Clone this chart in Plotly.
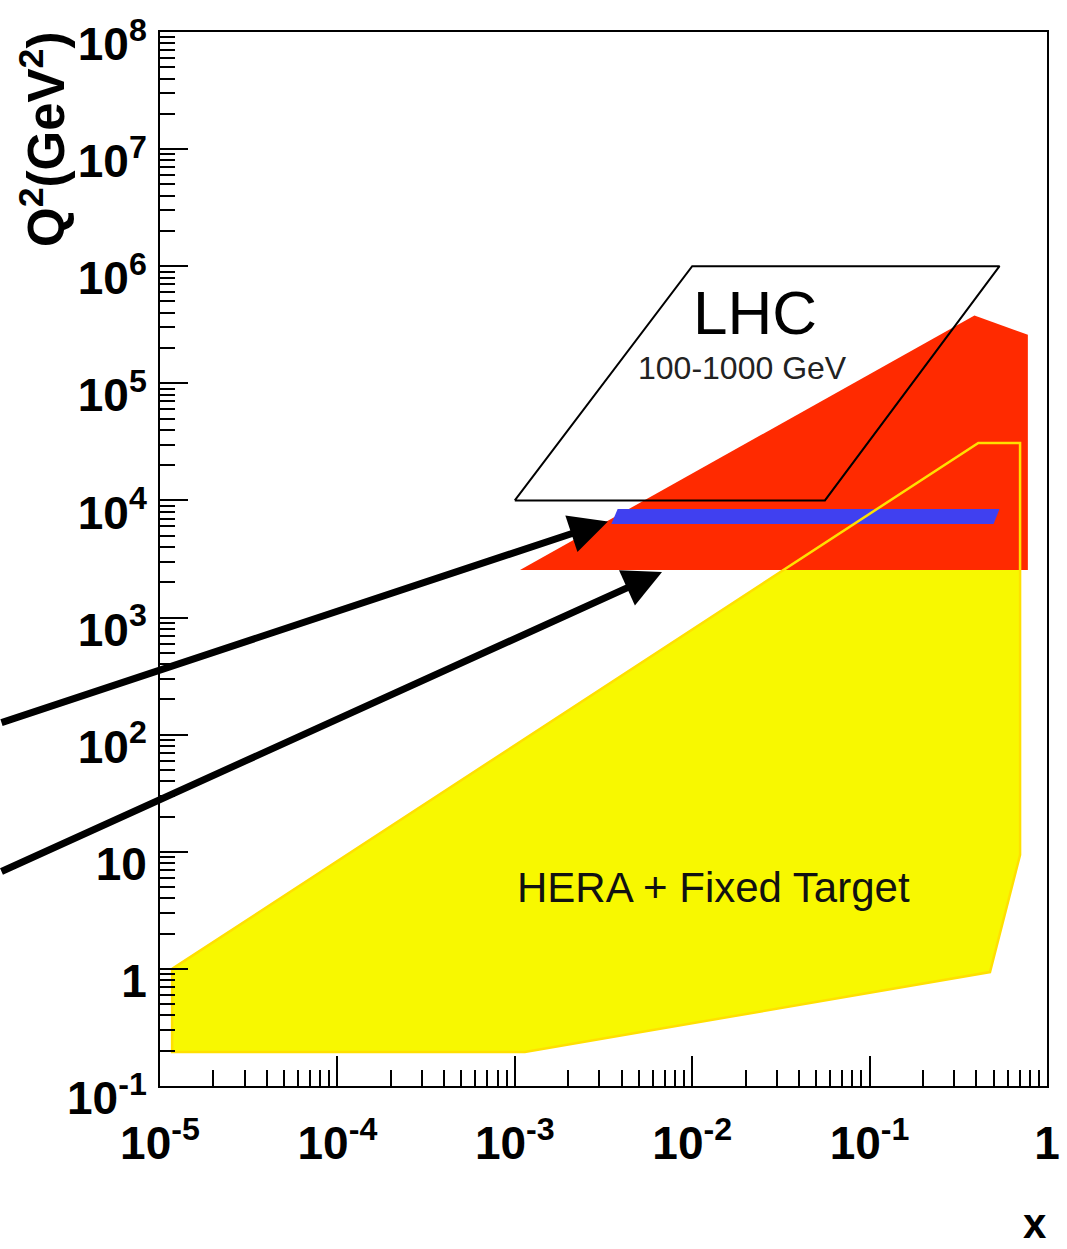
import numpy as np
import plotly.graph_objects as go

# ---------------- data ----------------
x_tickvals = [1e-5, 1e-4, 1e-3, 1e-2, 1e-1, 1]
x_ticktext = ["10<sup>-5</sup>", "10<sup>-4</sup>", "10<sup>-3</sup>",
              "10<sup>-2</sup>", "10<sup>-1</sup>", "1"]
y_tickvals = [1e-1, 1, 10, 1e2, 1e3, 1e4, 1e5, 1e6, 1e7, 1e8]
y_ticktext = ["10<sup>-1</sup>", "1", "10", "10<sup>2</sup>", "10<sup>3</sup>",
              "10<sup>4</sup>", "10<sup>5</sup>", "10<sup>6</sup>",
              "10<sup>7</sup>", "10<sup>8</sup>"]

# HERA + fixed target region (yellow)
hera_x = [1.17e-5, 0.41, 0.705, 0.705, 0.477, 1.14e-3, 1.17e-5, 1.17e-5]
hera_y = [1.0, 3.1e4, 3.1e4, 9.4, 0.94, 0.195, 0.195, 1.0]

# LHC kinematic region (red)
lhc_x = [1.07e-3, 0.39, 0.78, 0.78, 1.07e-3]
lhc_y = [2550, 3.8e5, 2.6e5, 2550, 2550]

# LHC 100-1000 GeV parallelogram
box_x = [1e-3, 0.01, 0.54, 0.056, 1e-3]
box_y = [1e4, 1e6, 1e6, 1e4, 1e4]

# blue band
band_x = [3.8e-3, 0.54, 0.5, 3.5e-3, 3.8e-3]
band_y = [8450, 8450, 6300, 6300, 8450]

# arrows: tip and tail positions
arrow_tip_x = [3.35e-3, 6.76e-3]
arrow_tip_y = [6600, 2450]
arrow_tail_x = [10 ** -5.902, 10 ** -5.902]
arrow_tail_y = [125.6, 6.7]

# ---------------- figure ----------------
fig = go.Figure()

fig.add_trace(go.Scatter(x=hera_x, y=hera_y, mode="lines", fill="toself",
                         fillcolor="#f8f800", line=dict(width=0, color="#f8f800"),
                         hoverinfo="skip", showlegend=False))
fig.add_trace(go.Scatter(x=lhc_x, y=lhc_y, mode="lines", fill="toself",
                         fillcolor="#ff2a00", line=dict(width=0, color="#ff2a00"),
                         hoverinfo="skip", showlegend=False))
fig.add_trace(go.Scatter(x=band_x, y=band_y, mode="lines", fill="toself",
                         fillcolor="#4040f0", line=dict(width=0, color="#4040f0"),
                         hoverinfo="skip", showlegend=False))
fig.add_trace(go.Scatter(x=hera_x, y=hera_y, mode="lines",
                         line=dict(width=2.5, color="#ffe000"),
                         hoverinfo="skip", showlegend=False))
fig.add_trace(go.Scatter(x=box_x, y=box_y, mode="lines",
                         line=dict(width=2, color="black"),
                         hoverinfo="skip", showlegend=False))

tick_font = dict(family="Liberation Sans, Arial, Helvetica",
                 size=46, color="black", weight="bold")

fig.update_xaxes(type="log", range=[-5, 0], automargin=False,
                 tickvals=x_tickvals, ticktext=x_ticktext,
                 ticks="inside", ticklen=30, tickwidth=1.5, tickcolor="black",
                 minor=dict(ticks="inside", ticklen=16, tickwidth=1.5,
                            tickcolor="black", dtick="D1", showgrid=False),
                 showline=True, linecolor="black", linewidth=2, mirror=True,
                 showgrid=False, zeroline=False, tickfont=tick_font,
                 ticklabelstandoff=16, ticklabeloverflow="allow")
fig.update_yaxes(type="log", range=[-1, 8], automargin=False,
                 tickvals=y_tickvals, ticktext=y_ticktext,
                 ticks="inside", ticklen=28, tickwidth=1.5, tickcolor="black",
                 minor=dict(ticks="inside", ticklen=15, tickwidth=1.5,
                            tickcolor="black", dtick="D1", showgrid=False),
                 showline=True, linecolor="black", linewidth=2, mirror=True,
                 showgrid=False, zeroline=False, tickfont=tick_font,
                 ticklabelstandoff=2, ticklabelshift=12, ticklabeloverflow="allow")

annotations = []
for tx, ty, sx, sy in zip(arrow_tip_x, arrow_tip_y, arrow_tail_x, arrow_tail_y):
    annotations.append(dict(x=np.log10(tx), y=np.log10(ty), xref="x", yref="y",
                            ax=np.log10(sx), ay=np.log10(sy), axref="x", ayref="y",
                            showarrow=True, arrowhead=2, arrowsize=1.1,
                            arrowwidth=7, arrowcolor="black", text=""))

sans = "Liberation Sans, Arial, Helvetica"
annotations += [
    dict(x=np.log10(0.0226), y=np.log10(4.0e5), xref="x", yref="y", text="LHC",
         showarrow=False, font=dict(family=sans, size=62, color="black")),
    dict(x=np.log10(0.0193), y=np.log10(1.35e5), xref="x", yref="y",
         text="100-1000 GeV", showarrow=False,
         font=dict(family=sans, size=32, color="#222222")),
    dict(x=np.log10(0.0131), y=np.log10(5.0), xref="x", yref="y",
         text="HERA + Fixed Target", showarrow=False,
         font=dict(family=sans, size=42, color="#111111")),
    dict(x=(43 - 160) / 887, y=(1086 - 140) / 1054, xref="paper", yref="paper",
         text="Q<sup>2</sup>(GeV<sup>2</sup>)", textangle=-90, showarrow=False,
         xanchor="center", yanchor="middle",
         font=dict(family=sans, size=51, color="black", weight="bold")),
    dict(x=(1035 - 160) / 887, y=(1086 - 1223) / 1054, xref="paper", yref="paper",
         text="x", showarrow=False, xanchor="center", yanchor="middle",
         font=dict(family=sans, size=42, color="black", weight="bold")),
]

fig.update_layout(width=1067, height=1249,
                  margin=dict(l=160, r=20, t=32, b=163, pad=0),
                  plot_bgcolor="white", paper_bgcolor="white",
                  annotations=annotations, showlegend=False)

fig.write_html("out.html")
